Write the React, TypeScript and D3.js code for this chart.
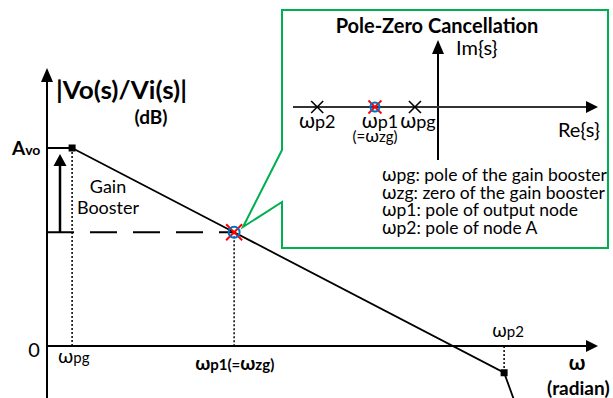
import React from "react";
import * as d3 from "d3";

// Bode magnitude sketch: breakpoints (rad/s) and magnitude (dB)
const AVO_DB = 94;
const W_PG = 10;
const W_P1 = 1000;
const W_P2 = 2.15e6;
const W_END = 3.0e6;
const RESPONSE_W = [W_PG, W_P1, W_P2, W_END];
const RESPONSE_DB = [AVO_DB, 54, -12.7, -28];
const CANCEL_DB = 54;

// Pole-zero map (positions along the real axis, arbitrary units)
const PZ_NAMES = ["ωp2", "ωp1", "ωpg"];
const PZ_RE = [-5.5, -2.87, -1.05];
const LEGEND = [
  ["ω", "pg: pole of the gain booster"],
  ["ω", "zg: zero of the gain booster"],
  ["ω", "p1: pole of output node"],
  ["ω", "p2: pole of node A"],
];

const W = 613;
const H = 398;
const FONT = "Lato, 'Open Sans', sans-serif";
const GREEN = "#00b050";
const RED = "#ff0000";
const BLUE = "#0070c0";

export default function App() {
  const x = d3.scaleLog().domain([4.9, 3.1e7]).range([47, 598]);
  const y = d3.scaleLinear().domain([0, AVO_DB]).range([346, 148]);

  const x0 = x.range()[0];
  const xEnd = x.range()[1];
  const y0 = y(0);

  const line = d3
    .line<[number, number]>()
    .x((d) => x(d[0]))
    .y((d) => y(d[1]));
  const pts: [number, number][] = RESPONSE_W.map((w, i) => [w, RESPONSE_DB[i]]);

  // inset axes
  const re = d3.scaleLinear().domain([-6.6, 0]).range([293, 438]);
  const reAxisY = 107;
  const imX = re(0);

  const cx = x(W_P1);
  const cy = y(CANCEL_DB);

  const xMark = (px: number, py: number, s: number, color: string, sw: number) => (
    <g stroke={color} strokeWidth={sw}>
      <line x1={px - s} y1={py - s} x2={px + s} y2={py + s} />
      <line x1={px - s} y1={py + s} x2={px + s} y2={py - s} />
    </g>
  );

  const labelShift = [0, 5, 3];

  return (
    <svg
      width={W}
      height={H}
      style={{ position: "absolute", left: 0, top: 0, background: "#fff" }}
      fontFamily={FONT}
    >
      {/* callout box */}
      <path
        d="M282,150 L243,227 L282,202 L282,248 L608,248 L608,10 L282,10 Z"
        fill="#fff"
        stroke={GREEN}
        strokeWidth={2}
      />

      {/* main axes */}
      <line x1={x0} y1={H} x2={x0} y2={80} stroke="#000" strokeWidth={2} />
      <path d={`M${x0 - 6},82 L${x0},68 L${x0 + 6},82 Z`} fill="#000" />
      <line x1={x0} y1={y0} x2={586} y2={y0} stroke="#000" strokeWidth={2} />
      <path d={`M586,${y0 - 6} L${xEnd},${y0} L586,${y0 + 6} Z`} fill="#000" />

      {/* dotted guides */}
      <g stroke="#000" strokeWidth={1.5} strokeDasharray="2 2">
        <line x1={x(W_PG)} y1={y(AVO_DB)} x2={x(W_PG)} y2={y0} />
        <line x1={cx} y1={cy} x2={cx} y2={y0} />
        <line x1={x(W_P2)} y1={y0} x2={x(W_P2)} y2={y(RESPONSE_DB[2])} />
      </g>

      {/* dashed level of the cancellation point */}
      <line x1={x0} y1={cy} x2={cx} y2={cy} stroke="#000" strokeWidth={2} strokeDasharray="27 16" />

      {/* response */}
      <line x1={x0} y1={y(AVO_DB)} x2={x(W_PG)} y2={y(AVO_DB)} stroke="#000" strokeWidth={2} />
      <path d={line(pts) || ""} fill="none" stroke="#000" strokeWidth={1.8} />
      <rect x={x(W_PG) - 3.5} y={y(AVO_DB) - 3.5} width={7} height={7} fill="#000" />
      <rect x={x(W_P2) - 3.5} y={y(RESPONSE_DB[2]) - 3.5} width={7} height={7} fill="#000" />

      {/* gain booster arrow */}
      <line x1={60} y1={cy} x2={60} y2={164} stroke="#000" strokeWidth={2.5} />
      <path d={`M53.5,166 L60,154 L66.5,166 Z`} fill="#000" />
      <text x={108} y={193} fontSize={18} textAnchor="middle">Gain</text>
      <text x={108} y={214} fontSize={18} textAnchor="middle">Booster</text>

      {/* cancellation marker on the response */}
      {xMark(cx, cy, 8, RED, 2)}
      <circle cx={cx} cy={cy} r={5.5} fill="none" stroke={BLUE} strokeWidth={2} />

      {/* axis titles */}
      <text x={56} y={99} fontSize={25} fontWeight="bold" textLength={131} lengthAdjust="spacingAndGlyphs">|Vo(s)/Vi(s)|</text>
      <text x={151} y={124} fontSize={19} fontWeight="bold" textAnchor="middle">(dB)</text>
      <text x={12} y={155} fontWeight="bold">
        <tspan fontSize={19}>A</tspan>
        <tspan fontSize={14}>vo</tspan>
      </text>
      <text x={34} y={357} fontSize={20} textAnchor="middle">0</text>
      <text x={58} y={363}>
        <tspan fontSize={20}>ω</tspan>
        <tspan fontSize={15}>pg</tspan>
      </text>
      <text x={cx - 39} y={370} fontWeight="bold">
        <tspan fontSize={19}>ω</tspan>
        <tspan fontSize={15}>p1(=</tspan>
        <tspan fontSize={19}>ω</tspan>
        <tspan fontSize={15}>zg)</tspan>
      </text>
      <text x={x(W_P2) + 4} y={337} textAnchor="middle">
        <tspan fontSize={19}>ω</tspan>
        <tspan fontSize={15}>p2</tspan>
      </text>
      <text x={577} y={370} fontSize={21} fontWeight="bold" textAnchor="middle">ω</text>
      <text x={547} y={395} fontSize={19} fontWeight="bold">(radian)</text>

      {/* inset: pole-zero map */}
      <text x={437} y={33} fontSize={20} fontWeight="bold" textAnchor="middle">Pole-Zero Cancellation</text>
      <line x1={imX} y1={160} x2={imX} y2={52} stroke="#000" strokeWidth={2} />
      <path d={`M${imX - 6},54 L${imX},40 L${imX + 6},54 Z`} fill="#000" />
      <text x={456} y={55} fontSize={20}>Im{"{s}"}</text>
      <line x1={re.range()[0]} y1={reAxisY} x2={586} y2={reAxisY} stroke="#333" strokeWidth={2} />
      <path d={`M586,${reAxisY - 6} L598,${reAxisY} L586,${reAxisY + 6} Z`} fill="#000" />
      <text x={600} y={137} fontSize={20} textAnchor="end">Re{"{s}"}</text>

      {PZ_RE.map((r, i) =>
        i === 1 ? (
          <g key={PZ_NAMES[i]}>
            {xMark(re(r), reAxisY, 6.5, RED, 1.8)}
            <circle cx={re(r)} cy={reAxisY} r={4.5} fill="none" stroke={BLUE} strokeWidth={2} />
          </g>
        ) : (
          <g key={PZ_NAMES[i]}>{xMark(re(r), reAxisY, 6, "#000", 1.6)}</g>
        )
      )}
      {PZ_RE.map((r, i) => (
        <text key={"l" + i} x={re(r) + labelShift[i]} y={128} textAnchor="middle">
          <tspan fontSize={21}>ω</tspan>
          <tspan fontSize={18}>{PZ_NAMES[i].slice(1)}</tspan>
        </text>
      ))}
      <text x={re(PZ_RE[1])} y={142} textAnchor="middle" fontSize={15}>
        (=<tspan fontSize={18}>ω</tspan>zg)
      </text>

      {LEGEND.map((l, i) => (
        <text key={"g" + i} x={382} y={181 + i * 17.5} fontSize={17.5}>
          <tspan fontSize={19}>{l[0]}</tspan>
          <tspan>{l[1]}</tspan>
        </text>
      ))}
    </svg>
  );
}
